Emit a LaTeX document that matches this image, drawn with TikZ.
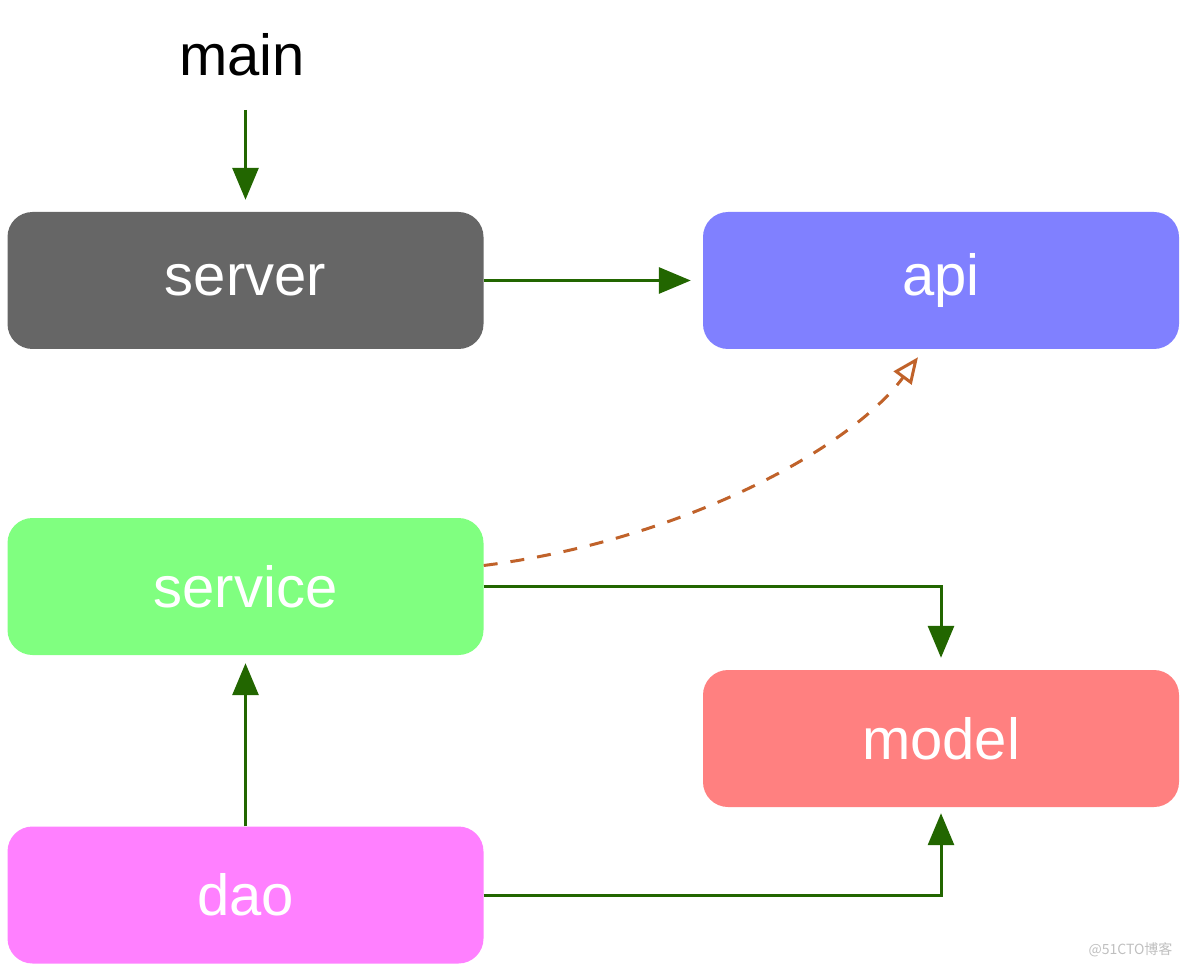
\documentclass[tikz,border=0pt]{standalone}
\usepackage{fontspec}
\setmainfont{Liberation Sans}
\newfontfamily\cjk{Noto Sans CJK SC}
\usetikzlibrary{arrows.meta,calc}
\definecolor{arrowgreen}{HTML}{226600}
\definecolor{dashorange}{HTML}{C0622A}
\definecolor{servergray}{HTML}{666666}
\definecolor{apiblue}{HTML}{8080FF}
\definecolor{servicegreen}{HTML}{80FF80}
\definecolor{modelred}{HTML}{FF8080}
\definecolor{daopink}{HTML}{FF80FF}
\tikzset{
  modbox/.style={rectangle, rounded corners=25pt, minimum width=476pt, minimum height=137pt, inner sep=0pt, text=white, font=\fontsize{58}{60}\selectfont},
  deparrow/.style={draw=arrowgreen, line width=3pt, -{Triangle[width=26pt,length=32pt]}},
  implarrow/.style={draw=dashorange, line width=3pt, dash pattern=on 14pt off 13pt, -{Triangle[open,width=22pt,length=26pt,line width=3pt]}}
}
\begin{document}
\begin{tikzpicture}[x=1pt,y=-1pt]
\useasboundingbox (0,0) rectangle (1184,968);
\node[font=\fontsize{58}{60}\selectfont] (main) at (242,55) {main};
\node[modbox, fill=servergray] (server) at (245.5,280.5) {server};
\node[modbox, fill=apiblue] (api) at (941,280.5) {api};
\node[modbox, fill=servicegreen] (service) at (245.5,586.5) {service};
\node[modbox, fill=modelred] (model) at (941,738.5) {model};
\node[modbox, fill=daopink] (dao) at (245.5,895) {dao};
\node[font=\cjk\fontsize{14}{16}\selectfont, text=black!25, anchor=east] (wm) at (1176,950) {@51CTO博客};

\draw[deparrow, shorten <=30pt, shorten >=12pt] (main.south -| server.north) -- (server.north);
\draw[deparrow, shorten >=12pt] (server.east) -- (api.west);
\draw[deparrow, shorten >=12pt] (service.east) -| (model.north);
\draw[deparrow, shorten >=8pt] (dao.north) -- (service.south);
\draw[deparrow, shorten >=6pt] (dao.east) -| (model.south);
\coordinate (dstart) at ([yshift=21pt]service.east);
\coordinate (dend) at ([xshift=-23pt,yshift=-8pt]api.south);
\draw[implarrow] (dstart) .. controls ($(dstart)+(197,-25)$) and ($(dend)+(-68,92)$) .. (dend);
\end{tikzpicture}
\end{document}
